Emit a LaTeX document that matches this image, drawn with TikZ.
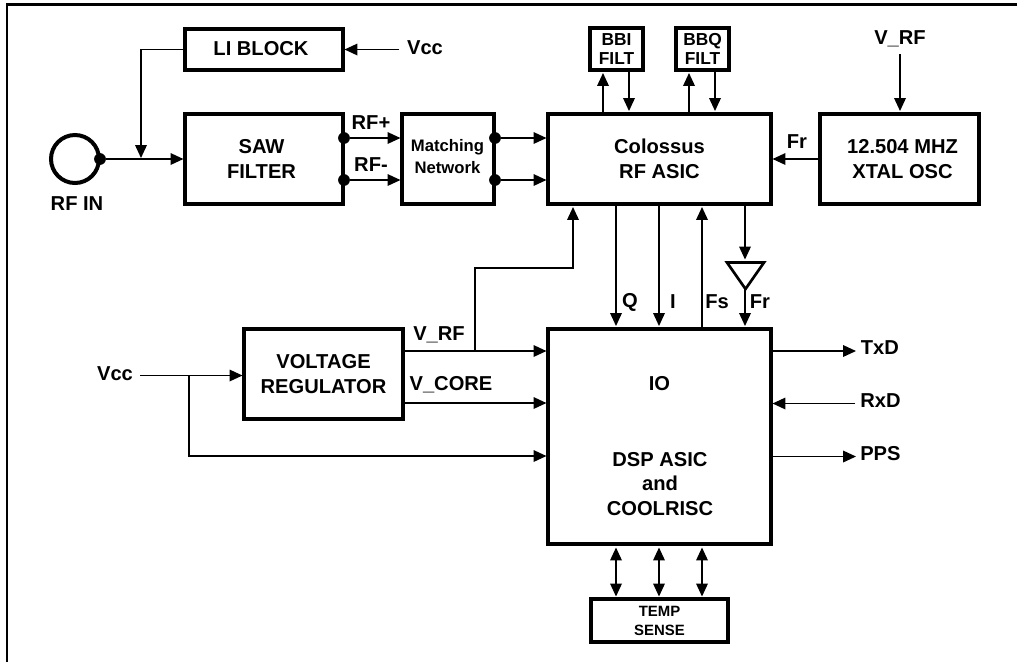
\documentclass[tikz,border=0pt]{standalone}
\usepackage{fontspec}
\setmainfont{Liberation Sans}
\usetikzlibrary{arrows.meta}
\tikzset{
  x=0.75pt,y=-0.75pt,
  blk/.style={draw=black,line width=2.3pt,fill=white,inner sep=0pt,align=center,font=\fontsize{15.1}{18.7}\bfseries\selectfont},
  lbl/.style={inner sep=0pt,font=\fontsize{15.1}{18.7}\bfseries\selectfont,align=center},
  wire/.style={line width=1.1pt,draw=black},
  arr/.style={wire,-{Triangle[length=9.7pt,width=8.7pt]}},
  darr/.style={wire,{Triangle[length=9.7pt,width=8.7pt]}-{Triangle[length=9.7pt,width=8.7pt]}},
  jdot/.style={circle,fill=black,inner sep=0pt,minimum size=8.8pt},
}
\begin{document}
\begin{tikzpicture}
\useasboundingbox (0,0) rectangle (1017,662);
\fill[white] (0,0) rectangle (1017,662);
% frame
\coordinate (fbl) at (7,662);
\coordinate (ftl) at (7,4.5);
\coordinate (ftr) at (1017,4.5);
\draw[line width=2.2pt,line join=miter] (fbl) -- (ftl) -- (ftr);
% blocks
\node[blk,minimum width=158pt*0.75,minimum height=41pt*0.75] (li) at (264,49.5) {};
\node[lbl] (lit) at (261,48.5) {LI BLOCK};
\node[blk,minimum width=158pt*0.75,minimum height=90pt*0.75] (saw) at (264,159) {};
\node[lbl] (sawt) at (261.5,159) {SAW\\FILTER};
\node[blk,minimum width=92pt*0.75,minimum height=90pt*0.75] (match) at (448,159) {};
\node[lbl,font=\fontsize{12.5}{16.5}\bfseries\selectfont] (matcht) at (447.5,157) {Matching\\Network};
\node[blk,minimum width=223pt*0.75,minimum height=90pt*0.75] (rf) at (659.5,159) {Colossus\\RF ASIC};
\node[blk,minimum width=159pt*0.75,minimum height=90pt*0.75] (xtal) at (899.5,159) {};
\node[lbl] (xtalt) at (902.5,159) {12.504 MHZ\\XTAL OSC};
\node[blk,minimum width=53pt*0.75,minimum height=42pt*0.75,font=\fontsize{13}{14.2}\bfseries\selectfont] (bbi) at (616.5,49) {BBI\\FILT};
\node[blk,minimum width=53pt*0.75,minimum height=42pt*0.75,font=\fontsize{13}{14.2}\bfseries\selectfont] (bbq) at (702.5,49) {BBQ\\FILT};
\node[blk,minimum width=159pt*0.75,minimum height=90pt*0.75] (reg) at (323.5,374) {VOLTAGE\\REGULATOR};
\node[blk,minimum width=223pt*0.75,minimum height=215pt*0.75] (io) at (659.5,436.5) {};
\node[blk,minimum width=137pt*0.75,minimum height=43pt*0.75,font=\fontsize{11.2}{14.25}\bfseries\selectfont] (temp) at (659.5,620.5) {TEMP\\SENSE};
\node[lbl] (iot) at (659.5,384) {IO};
\node[lbl] (dsp) at (660,484) {DSP ASIC\\and\\COOLRISC};
% RF IN
\node[circle,draw=black,line width=3pt,minimum size=48pt*0.75,inner sep=0pt] (ant) at (75,159) {};
\node[lbl] (rfin) at (77,204) {RF IN};
\node[jdot] (antd) at (100,159) {};
\coordinate (sawin) at (saw.west|-antd);
\draw[arr] (antd) -- (sawin);
\coordinate (lib) at (141,49.5);
\coordinate (lie) at (141,158);
\draw[arr] (li.west) -- (lib) -- (lie);
% Vcc top
\node[lbl] (vcc1) at (425,48) {Vcc};
\coordinate (vcc1s) at (399,49.5);
\draw[arr] (vcc1s) -- (li.east);
% SAW to match
\node[jdot] (s1) at (344,138) {};
\node[jdot] (s2) at (344,180) {};
\node[jdot] (m1) at (495,138) {};
\node[jdot] (m2) at (495,180) {};
\coordinate (mi1) at (match.west|-s1);
\coordinate (mi2) at (match.west|-s2);
\coordinate (ri1) at (rf.west|-m1);
\coordinate (ri2) at (rf.west|-m2);
\draw[arr] (s1) -- (mi1);
\draw[arr] (s2) -- (mi2);
\draw[arr] (m1) -- (ri1);
\draw[arr] (m2) -- (ri2);
\node[lbl] (rfp) at (371,123) {RF+};
\node[lbl] (rfm) at (371,164.5) {RF-};
% filter wires
\coordinate (a1) at (603,113); \coordinate (a1t) at (603,73);
\coordinate (a2) at (629,111); \coordinate (a2t) at (629,71);
\coordinate (a3) at (689,113); \coordinate (a3t) at (689,73);
\coordinate (a4) at (715,111); \coordinate (a4t) at (715,71);
\draw[arr] (a1) -- (a1t);
\draw[arr] (a2t) -- (a2);
\draw[arr] (a3) -- (a3t);
\draw[arr] (a4t) -- (a4);
% xtal
\draw[arr] (xtal.west) -- (rf.east);
\node[lbl] (fr1) at (797,142) {Fr};
\node[lbl] (vrf2) at (900,39) {V\_RF};
\coordinate (xt) at (900,111);
\coordinate (xs) at (900,54);
\draw[arr] (xs) -- (xt);
% RF <-> IO
\coordinate (q1) at (616,205); \coordinate (q2) at (616,326);
\coordinate (i1) at (659,205); \coordinate (i2) at (659,326);
\coordinate (f1) at (702,328); \coordinate (f2) at (702,207);
\draw[arr] (q1) -- (q2);
\draw[arr] (i1) -- (i2);
\draw[arr] (f1) -- (f2);
\node[lbl] (ql) at (630,302) {Q};
\node[lbl] (il) at (673,302) {I};
\node[lbl] (fsl) at (717,302) {Fs};
\node[lbl] (frl) at (760,302) {Fr};
% buffer
\coordinate (bl) at (727,262.5); \coordinate (br) at (764,262.5); \coordinate (bb) at (745.5,289);
\draw[line width=2pt,line join=miter,fill=white] (bl) -- (br) -- (bb) -- cycle;
\coordinate (bt) at (745,259.5);
\coordinate (f0) at (745,205);
\coordinate (f3) at (745,326);
\coordinate (bb2) at (745,289);
\draw[arr] (f0) -- (bt);
\draw[arr] (bb2) -- (f3);
% regulator
\node[lbl] (vrf) at (439,334.5) {V\_RF};
\node[lbl] (vcore) at (451,385) {V\_CORE};
\coordinate (r1) at (reg.east|-0,351); \coordinate (r1e) at (io.west|-0,351);
\coordinate (r2) at (reg.east|-0,403); \coordinate (r2e) at (io.west|-0,403);
\draw[arr] (r1) -- (r1e);
\draw[arr] (r2) -- (r2e);
\coordinate (t0) at (475,351); \coordinate (t1) at (475,268); \coordinate (t2) at (573,268); \coordinate (t3) at (573,207);
\draw[arr] (t0) -- (t1) -- (t2) -- (t3);
% Vcc left
\node[lbl] (vcc2) at (115,374) {Vcc};
\coordinate (v0) at (140,375.5); \coordinate (v1) at (189,375.5); \coordinate (v2) at (189,456);
\coordinate (vr) at (reg.west|-v0); \coordinate (v3) at (io.west|-v2);
\draw[arr] (v0) -- (vr);
\draw[arr] (v1) -- (v2) -- (v3);
% right side
\node[lbl,anchor=west] (txd) at (860.5,348) {TxD};
\node[lbl,anchor=west] (rxd) at (860,401) {RxD};
\node[lbl,anchor=west] (pps) at (860,454) {PPS};
\coordinate (o1e) at (856,351);
\coordinate (o2e) at (855,403.5);
\coordinate (o3e) at (856,456.5);
\coordinate (o1) at (io.east|-o1e);
\coordinate (o2) at (io.east|-o2e);
\coordinate (o3) at (io.east|-o3e);
\draw[arr] (o1) -- (o1e);
\draw[arr] (o2e) -- (o2);
\draw[arr] (o3) -- (o3e);
% bottom
\coordinate (b1) at (616,547.5); \coordinate (b1e) at (616,596.5);
\coordinate (b2) at (659,547.5); \coordinate (b2e) at (659,596.5);
\coordinate (b3) at (702,547.5); \coordinate (b3e) at (702,596.5);
\draw[darr] (b1) -- (b1e);
\draw[darr] (b2) -- (b2e);
\draw[darr] (b3) -- (b3e);
\end{tikzpicture}
\end{document}
